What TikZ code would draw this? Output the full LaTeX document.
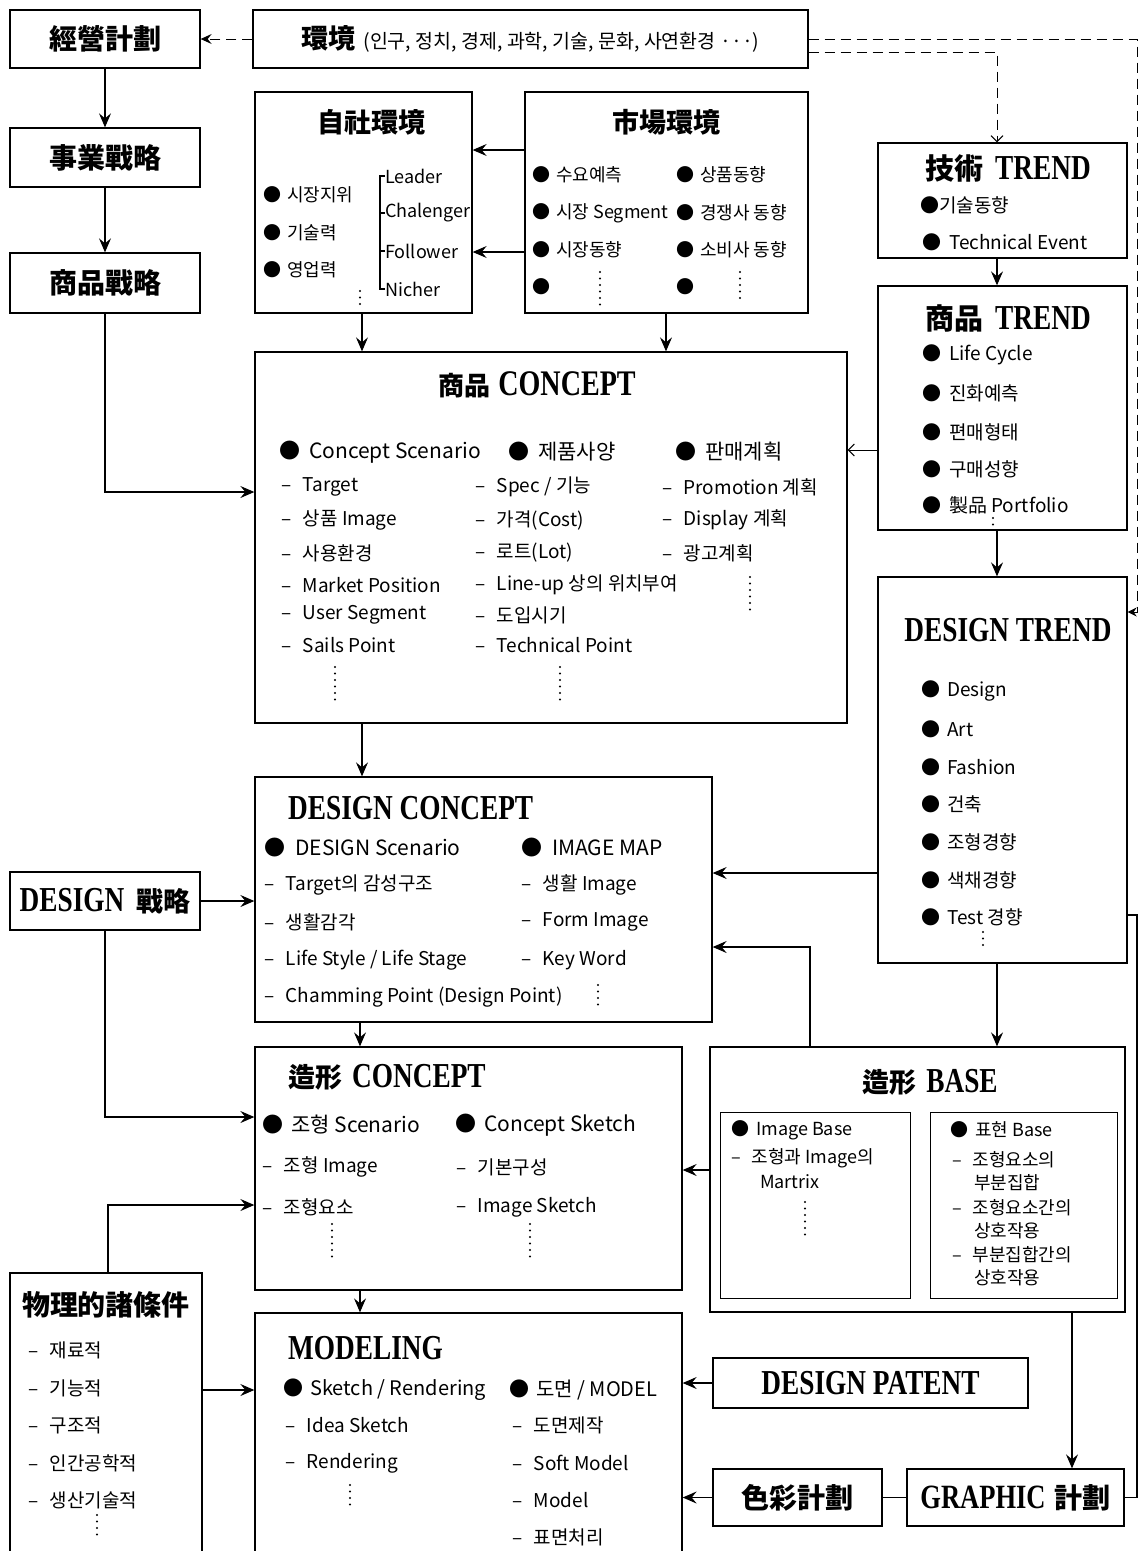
\documentclass[tikz,border=0pt]{standalone}
\usepackage{fontspec}
\usetikzlibrary{arrows.meta}
\setmainfont{Liberation Serif}
\newfontfamily\kr{Noto Sans CJK KR}
\newfontfamily\tlat[FakeStretch=0.78]{Liberation Serif}
\newcommand\Hj[2][27]{{\kr\bfseries\fontsize{#1}{#1}\selectfont #2}}
\newcommand\Lt[2][35]{{\tlat\bfseries\fontsize{#1}{#1}\selectfont #2}}
\newcommand\dsh{–\hspace{0.6em}}
\begin{document}
\begin{tikzpicture}[x=1pt,y=-1pt,
 box/.style={draw, line width=1.3pt, inner sep=0pt},
 ttl/.style={inner sep=0pt, font=\fontsize{35}{38}\selectfont},
 tx/.style={anchor=west, inner sep=0pt, font=\kr\fontsize{19}{22}\selectfont},
 txb/.style={anchor=west, inner sep=0pt, font=\kr\fontsize{21}{24}\selectfont},
 txs/.style={anchor=west, inner sep=0pt, font=\kr\fontsize{18}{21}\selectfont},
 arr/.style={line width=1.2pt, -{Stealth[length=14pt,width=12pt,inset=5pt]}},
 barb/.style={line width=1pt, -{Straight Barb[length=6pt,width=12pt]}},
 dline/.style={line width=1pt, dash pattern=on 10pt off 6pt},
 vd/.style={line width=2.2pt, line cap=round, dash pattern=on 0pt off 6.5pt},
 ln/.style={line width=1.2pt}
]
\useasboundingbox (0,0) rectangle (1140,1551);
\fill[white] (0,0) rectangle (1140,1551);

% ---------- left column ----------
\node[box, minimum width=190pt, minimum height=58pt] (keiei) at (105,39) {\Hj[28]{經營計劃}};
\node[box, minimum width=190pt, minimum height=59pt] (jigyo) at (105,157.5) {\Hj[28]{事業戰略}};
\node[box, minimum width=190pt, minimum height=60pt] (shohin) at (105,283) {\Hj[28]{商品戰略}};
\node[box, minimum width=190pt, minimum height=58pt] (dsen) at (105,901) {\Lt{DESIGN}\hspace{12pt}\Hj[27]{戰略}};
\node[box, minimum width=192pt, minimum height=287pt] (butsuri) at (106,1416.5) {};
\node[ttl] (butsuriT) at (106,1305) {\Hj[28]{物理的諸條件}};
\foreach \y/\t [count=\i] in {1350/{재료적},1388/{기능적},1425/{구조적},1463/{인간공학적},1500/{생산기술적}}
  \node[tx] (bt\i) at (28,\y) {\dsh\t};
\draw[vd] (97,1515) -- (97,1541);

% ---------- environment ----------
\node[box, minimum width=555pt, minimum height=58pt] (env) at (530.5,39)
  {\Hj[27]{環境}\hspace{8pt}{\kr\fontsize{19.5}{21}\selectfont (인구, 정치, 경제, 과학, 기술, 문화, 사연환경 ···)}};

% ---------- 自社環境 ----------
\node[box, minimum width=217pt, minimum height=221pt] (jisha) at (363.5,202.5) {};
\node[ttl] (jishaT) at (371,122) {\Hj{自社環境}};
\foreach \y/\t [count=\i] in {195/{시장지위},233/{기술력},270/{영업력}}
  \node[txs] (js\i) at (263,\y) {●\hspace{6pt}\t};
\draw[ln] (385,176) -- (380,176) -- (380,289) -- (385,289);
\draw[ln] (380,213) -- (385,213);
\draw[ln] (380,251) -- (385,251);
\foreach \y/\t [count=\i] in {176/Leader,213/Chalenger,251/Follower,289/Nicher}
  \node[txs] (jl\i) at (385,\y) {\t};
\draw[vd] (360,291) -- (360,306);

% ---------- 市場環境 ----------
\node[box, minimum width=283pt, minimum height=221pt] (shijo) at (666.5,202.5) {};
\node[ttl] (shijoT) at (666,122) {\Hj{市場環境}};
\foreach \y/\t [count=\i] in {175/{수요예측},213/{시장 Segment},250/{시장동향},287/{}}
  \node[txs] (sa\i) at (532,\y) {●\hspace{6pt}\t};
\foreach \y/\t [count=\i] in {175/{상품동향},213/{경쟁사 동향},250/{소비사 동향},287/{}}
  \node[txs] (sb\i) at (676,\y) {●\hspace{6pt}\t};
\draw[vd] (600,272) -- (600,306);
\draw[vd] (740,272) -- (740,303);

% ---------- 技術 TREND ----------
\node[box, minimum width=249pt, minimum height=115pt] (gijutsu) at (1002.5,200.5) {};
\node[ttl] (gijutsuT) at (1008,168) {\Hj[29]{技術}\hspace{12pt}\Lt{TREND}};
\node[tx] (gj1) at (920,205) {●기술동향};
\node[tx] (gj2) at (922,242) {●\hspace{8pt}Technical Event};

% ---------- 商品 TREND ----------
\node[box, minimum width=249pt, minimum height=244pt] (shtrend) at (1002.5,408) {};
\node[ttl] (shtrendT) at (1008,318) {\Hj[29]{商品}\hspace{12pt}\Lt{TREND}};
\foreach \y/\t [count=\i] in {355/{Life Cycle},393/{진화예측},432/{편매형태},469/{구매성향},505/{製品 Portfolio}}
  \node[tx] (st\i) at (922,\y) {●\hspace{8pt}\t};
\draw[vd] (993,518) -- (993,530);

% ---------- 商品 CONCEPT ----------
\node[box, minimum width=592pt, minimum height=371pt] (pcon) at (551,537.5) {};
\node[ttl] (pconT) at (537,385) {\Hj[26]{商品}\hspace{8pt}\Lt[36]{CONCEPT}};
\node[txb] (pc1) at (279,452) {●\hspace{9pt}Concept Scenario};
\node[txb] (pc2) at (508,452) {●\hspace{9pt}제품사양};
\node[txb] (pc3) at (675,452) {●\hspace{9pt}판매계획};
\foreach \y/\t [count=\i] in {487/{Target},520/{상품 Image},553/{사용환경},585/{Market Position},615/{User Segment},645/{Sails Point}}
  \node[tx] (pa\i) at (281,\y) {\dsh\t};
\foreach \y/\t [count=\i] in {487/{Spec / 기능},520/{가격(Cost)},553/{로트(Lot)},585/{Line-up 상의 위치부여},615/{도입시기},645/{Technical Point}}
  \node[tx] (pb\i) at (475,\y) {\dsh\t};
\foreach \y/\t [count=\i] in {487/{Promotion 계획},520/{Display 계획},553/{광고계획}}
  \node[tx] (pd\i) at (662,\y) {\dsh\t};
\draw[vd] (335,667) -- (335,703);
\draw[vd] (560,667) -- (560,703);
\draw[vd] (750,577) -- (750,612);

% ---------- DESIGN TREND ----------
\node[box, minimum width=249pt, minimum height=386pt] (dtrend) at (1002.5,770) {};
\node[ttl] (dtrendT) at (1008,630) {\Lt{DESIGN TREND}};
\foreach \y/\t [count=\i] in {691/{Design},729/{Art},767/{Fashion},804/{건축},842/{조형경향},880/{색채경향},917/{Test 경향}}
  \node[tx] (dt\i) at (921,\y) {●\hspace{7pt}\t};
\draw[vd] (983,932) -- (983,951);

% ---------- DESIGN CONCEPT ----------
\node[box, minimum width=457pt, minimum height=245pt] (dcon) at (483.5,899.5) {};
\node[ttl, anchor=west] (dconT) at (288,808) {\Lt{DESIGN CONCEPT}};
\node[txb] (dc1) at (264,848) {●\hspace{10pt}DESIGN Scenario};
\node[txb] (dc2) at (521,848) {●\hspace{10pt}IMAGE MAP};
\foreach \y/\t [count=\i] in {885/{Target의 감성구조},922/{생활감각},960/{Life Style / Life Stage},997/{Chamming Point (Design Point)}}
  \node[tx] (da\i) at (264,\y) {\dsh\t};
\foreach \y/\t [count=\i] in {885/{생활 Image},922/{Form Image},960/{Key Word}}
  \node[tx] (db\i) at (521,\y) {\dsh\t};
\draw[vd] (598,985) -- (598,1010);

% ---------- 造形 CONCEPT ----------
\node[box, minimum width=427pt, minimum height=243pt] (zcon) at (468.5,1168.5) {};
\node[ttl, anchor=west] (zconT) at (288,1077) {\Hj[27]{造形}\hspace{10pt}\Lt{CONCEPT}};
\node[txb] (zc1) at (262,1125) {●\hspace{8pt}조형 Scenario};
\node[txb] (zc2) at (455,1125) {●\hspace{8pt}Concept Sketch};
\foreach \y/\t [count=\i] in {1167/{조형 Image},1207/{조형요소}}
  \node[tx] (za\i) at (262,\y) {\dsh\t};
\foreach \y/\t [count=\i] in {1167/{기본구성},1207/{Image Sketch}}
  \node[tx] (zb\i) at (456,\y) {\dsh\t};
\draw[vd] (332,1224) -- (332,1259);
\draw[vd] (530,1224) -- (530,1259);

% ---------- 造形 BASE ----------
\node[box, minimum width=415pt, minimum height=265pt] (zbase) at (917.5,1179.5) {};
\node[ttl] (zbaseT) at (930,1082) {\Hj[27]{造形}\hspace{10pt}\Lt{BASE}};
\node[box, line width=1pt, minimum width=190pt, minimum height=186pt] (ib1) at (815,1205) {};
\node[box, line width=1pt, minimum width=187pt, minimum height=186pt] (ib2) at (1023.5,1205) {};
\node[txs] (ia1) at (731,1130) {●\hspace{7pt}Image Base};
\node[txs] (ia2) at (731,1158) {\dsh 조형과 Image의};
\node[txs] (ia3) at (760,1182) {Martrix};
\draw[vd] (805,1202) -- (805,1237);
\node[txs] (ib1t) at (950,1130) {●\hspace{7pt}표현 Base};
\foreach \y/\t [count=\i] in {1160/{\dsh 조형요소의},1183/{\hspace{22pt}부분집합},1208/{\dsh 조형요소간의},1231/{\hspace{22pt}상호작용},1255/{\dsh 부분집합간의},1278/{\hspace{22pt}상호작용}}
  \node[txs] (ibx\i) at (952,\y) {\t};

% ---------- MODELING ----------
\node[box, minimum width=427pt, minimum height=247pt] (model) at (468.5,1436.5) {};
\node[ttl, anchor=west] (modelT) at (288,1348) {\Lt{MODELING}};
\node[tx, font=\kr\fontsize{20}{22}\selectfont] (mo1) at (283,1390) {●\hspace{7pt}Sketch / Rendering};
\node[tx, font=\kr\fontsize{20}{22}\selectfont] (mo2) at (509,1390) {●\hspace{7pt}도면 / MODEL};
\foreach \y/\t [count=\i] in {1425/{Idea Sketch},1463/{Rendering}}
  \node[tx] (ma\i) at (285,\y) {\dsh\t};
\foreach \y/\t [count=\i] in {1425/{도면제작},1463/{Soft Model},1500/{Model},1537/{표면처리}}
  \node[tx] (mb\i) at (512,\y) {\dsh\t};
\draw[vd] (350,1485) -- (350,1506);

% ---------- bottom right ----------
\node[box, minimum width=315pt, minimum height=50pt] (patent) at (870.5,1383) {\Lt{DESIGN PATENT}};
\node[box, minimum width=169pt, minimum height=57pt] (shikisai) at (797.5,1497.5) {\Hj[28]{色彩計劃}};
\node[box, minimum width=217pt, minimum height=57pt] (graphic) at (1015.5,1497.5) {\Lt[34]{GRAPHIC}\hspace{9pt}\Hj[28]{計劃}};

% ---------- connectors ----------
\draw[dline, -{Stealth[length=11pt,width=10pt,inset=4pt]}] (env.west) -- (keiei.east);
\draw[dline, -{Stealth[length=9pt,width=9pt,inset=3pt]}] (env.east) -- (1137,39) -- (1137,612) -- (dtrend.east |- 0,612);
\draw[dline, barb] (env.east |- 0,52) -- (997,52) -- (gijutsu.north -| 997,0);

\draw[arr] (keiei.south) -- (jigyo.north);
\draw[arr] (jigyo.south) -- (shohin.north);
\draw[arr] (shohin.south) |- (pcon.west |- 0,492);
\draw[arr] (shijo.west |- 0,150) -- (jisha.east |- 0,150);
\draw[arr] (shijo.west |- 0,252) -- (jisha.east |- 0,252);
\draw[arr] (jisha.south -| 362,0) -- (pcon.north -| 362,0);
\draw[arr] (shijo.south -| 666,0) -- (pcon.north -| 666,0);
\draw[arr] (gijutsu.south -| 997,0) -- (shtrend.north -| 997,0);
\draw[barb] (shtrend.west |- 0,450) -- (pcon.east |- 0,450);
\draw[arr] (shtrend.south -| 997,0) -- (dtrend.north -| 997,0);
\draw[arr] (pcon.south -| 362,0) -- (dcon.north -| 362,0);
\draw[arr] (dsen.east) -- (dcon.west |- dsen.east);
\draw[arr] (dsen.south) |- (zcon.west |- 0,1117);
\draw[arr] (dtrend.west |- 0,873) -- (dcon.east |- 0,873);
\draw[arr] (zbase.north -| 810,0) |- (dcon.east |- 0,947);
\draw[arr] (dtrend.south -| 997,0) -- (zbase.north -| 997,0);
\draw[arr] (dcon.south -| 360,0) -- (zcon.north -| 360,0);
\draw[arr] (zbase.west |- 0,1170) -- (zcon.east |- 0,1170);
\draw[arr] (butsuri.north -| 108,0) |- (zcon.west |- 0,1205);
\draw[arr] (zcon.south -| 360,0) -- (model.north -| 360,0);
\draw[arr] (butsuri.east |- 0,1390) -- (model.west |- 0,1390);
\draw[arr] (patent.west) -- (model.east |- patent.west);
\draw[arr] (shikisai.west) -- (model.east |- shikisai.west);
\draw[ln] (shikisai.east) -- (graphic.west);
\draw[arr] (zbase.south -| 1072,0) -- (graphic.north -| 1072,0);
\draw[ln] (dtrend.east |- 0,915) -- (1137,915) -- (1137,1497.5) -- (graphic.east);
\end{tikzpicture}
\end{document}
